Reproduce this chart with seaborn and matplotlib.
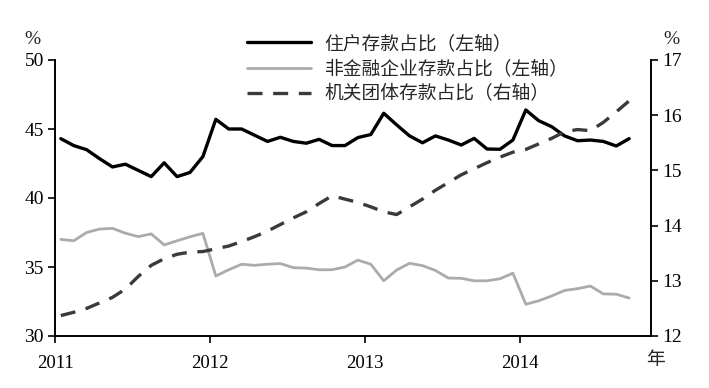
import numpy as np
import pandas as pd
import matplotlib
matplotlib.use("Agg")
import matplotlib.pyplot as plt
import seaborn as sns

# ---- data (monthly, Jan 2011 - Sep 2014) ----
household = [44.3, 43.8, 43.5, 42.85, 42.25, 42.45, 42.0, 41.55, 42.55, 41.55,
             41.85, 43.0, 45.7, 45.0, 45.0, 44.55, 44.1, 44.4, 44.1, 43.97,
             44.25, 43.8, 43.8, 44.38, 44.6, 46.14, 45.3, 44.5, 44.0, 44.5,
             44.2, 43.84, 44.32, 43.55, 43.53, 44.2, 46.38, 45.6, 45.17, 44.5,
             44.15, 44.2, 44.1, 43.77, 44.3]
corporate = [37.0, 36.9, 37.5, 37.75, 37.8, 37.45, 37.2, 37.4, 36.6, 36.9,
             37.19, 37.44, 34.35, 34.8, 35.2, 35.12, 35.2, 35.25, 34.95, 34.92,
             34.8, 34.8, 35.0, 35.5, 35.2, 34.0, 34.78, 35.27, 35.1, 34.75,
             34.2, 34.18, 34.0, 34.0, 34.15, 34.55, 32.3, 32.55, 32.9, 33.3,
             33.43, 33.62, 33.05, 33.03, 32.75]
government = [12.37, 12.43, 12.5, 12.6, 12.7, 12.85, 13.08, 13.28, 13.4, 13.48,
              13.52, 13.53, 13.58, 13.63, 13.71, 13.8, 13.9, 14.02, 14.14, 14.25,
              14.4, 14.54, 14.48, 14.42, 14.34, 14.25, 14.2, 14.34, 14.48, 14.64,
              14.78, 14.92, 15.03, 15.14, 15.24, 15.33, 15.38, 15.48, 15.58, 15.7,
              15.74, 15.72, 15.87, 16.06, 16.26]
labels = ["住户存款占比（左轴）", "非金融企业存款占比（左轴）", "机关团体存款占比（右轴）"]
year_ticks = [2011, 2012, 2013, 2014]
left_ticks = [30, 35, 40, 45, 50]
right_ticks = [12, 13, 14, 15, 16, 17]

months = np.arange(len(household))
xs = 2011 + (months + 0.45) / 12.0
df = pd.DataFrame({"x": xs, "household": household,
                   "corporate": corporate, "government": government})

sns.set_theme(style="ticks")
plt.rcParams["font.family"] = ["Liberation Serif", "Noto Sans CJK SC", "DejaVu Sans"]

fig = plt.figure(figsize=(7.09, 3.88), dpi=100)
ax = fig.add_axes([55 / 709, 1 - 336 / 388, (651 - 55) / 709, (336 - 60) / 388])
ax2 = ax.twinx()

sns.lineplot(data=df, x="x", y="household", ax=ax, color="black", lw=2.4,
             label=labels[0], legend=False)
sns.lineplot(data=df, x="x", y="corporate", ax=ax, color="#ababab", lw=2.0,
             label=labels[1], legend=False)
sns.lineplot(data=df, x="x", y="government", ax=ax2, color="#3a3a3a", lw=2.4,
             label=labels[2], legend=False, dashes=False)
ax2.lines[0].set_dashes((4.5, 3.2))

ax.set_xlim(2011, 2011 + (651 - 55) / 155)
ax.set_ylim(30, 50)
ax2.set_ylim(12, 17)
ax.set_xticks(year_ticks)
ax.set_xticklabels([str(y) for y in year_ticks])
ax.set_yticks(left_ticks)
ax2.set_yticks(right_ticks)
ax.set_xlabel("")
ax.set_ylabel("")
ax2.set_ylabel("")

for a in (ax, ax2):
    a.spines["top"].set_visible(False)
    for s in ("left", "right", "bottom"):
        a.spines[s].set_color("black")
        a.spines[s].set_linewidth(1.4)
    a.tick_params(labelsize=14, length=5, width=1.2, colors="black", direction="out")
ax.tick_params(axis="x", pad=9, labelsize=13.5)
ax.tick_params(axis="y", pad=3)
ax2.tick_params(axis="y", pad=3)
ax.spines["right"].set_visible(False)
ax2.spines["left"].set_visible(False)
ax2.spines["bottom"].set_visible(False)

fig.text(32 / 709, 1 - 40 / 388, "%", fontsize=14, ha="center", va="center")
fig.text(671 / 709, 1 - 40 / 388, "%", fontsize=14, ha="center", va="center")
fig.text(655 / 709, 1 - 360 / 388, "年", fontsize=13.5, ha="center", va="center",
         family=["Noto Sans CJK SC", "DejaVu Sans"])

handles = ax.lines[:2] + ax2.lines[:1]
leg = fig.legend(handles, labels, loc="upper left",
                 bbox_to_anchor=(247 / 709, 1 - 33 / 388), frameon=False,
                 handlelength=3.4, handletextpad=0.75, labelspacing=0.22,
                 borderpad=0, borderaxespad=0,
                 prop={"family": ["Noto Sans CJK SC", "DejaVu Sans"], "size": 13.5})

fig.savefig("out.png", dpi=100)
